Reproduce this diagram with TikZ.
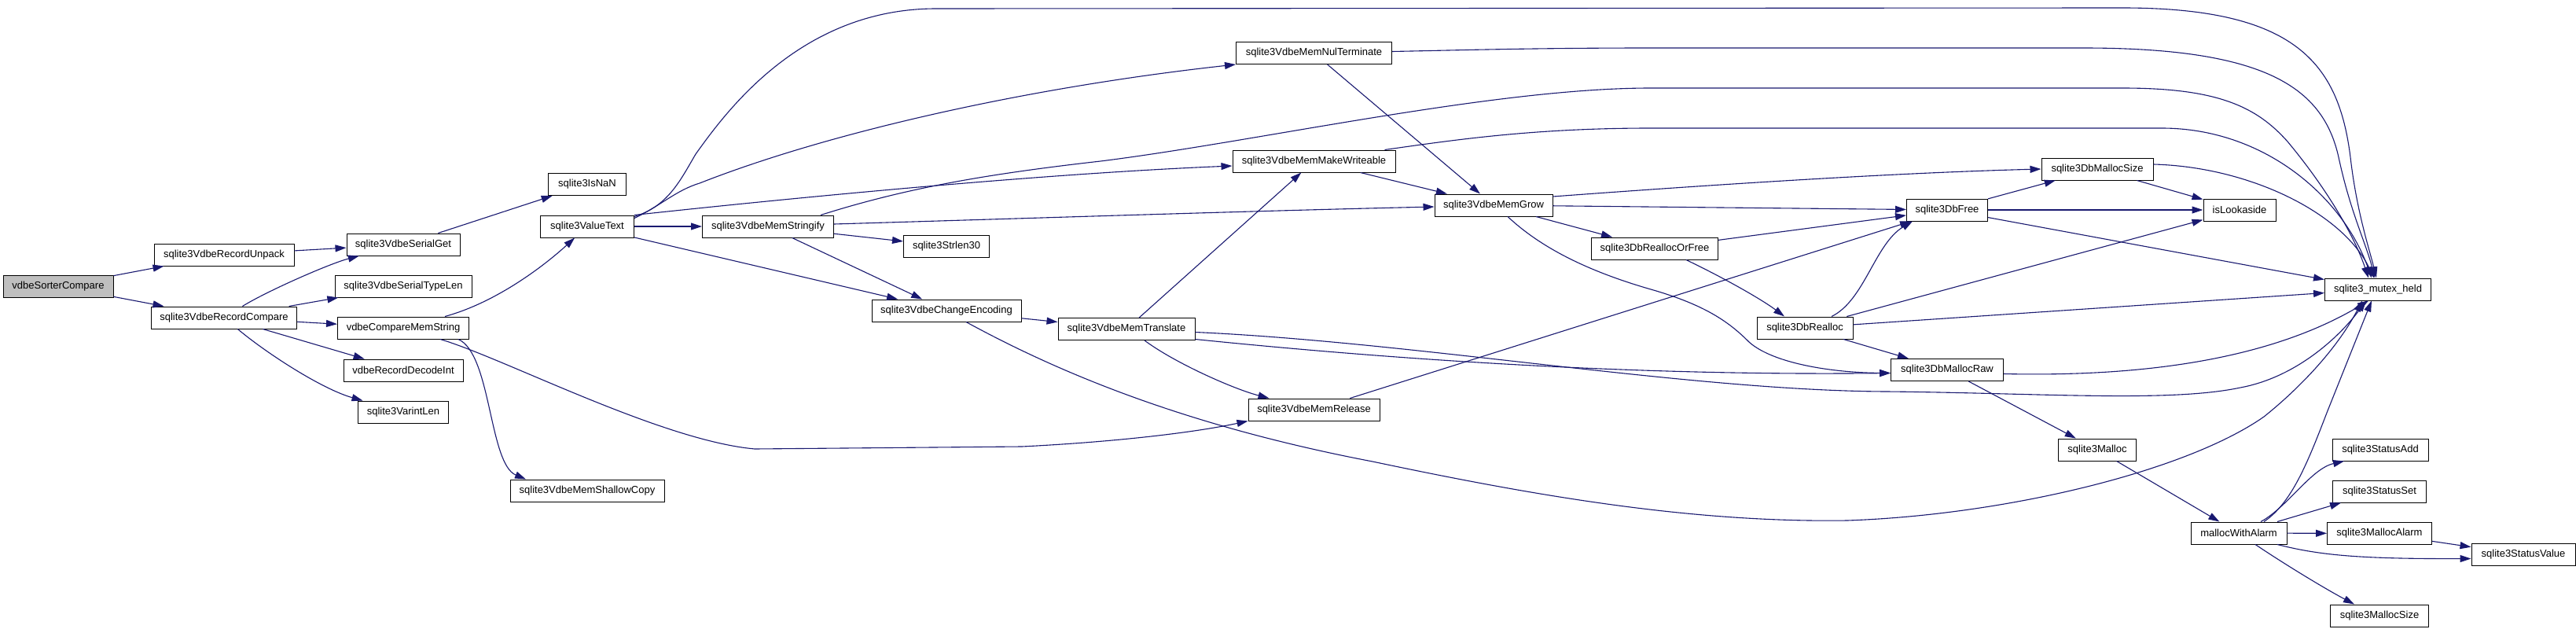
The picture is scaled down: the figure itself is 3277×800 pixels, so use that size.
\documentclass[tikz,border=0pt]{standalone}
\usepackage{fontspec}
\setmainfont{Liberation Sans}
\usetikzlibrary{arrows.meta}
\definecolor{edgec}{HTML}{191970}
\definecolor{rootfill}{HTML}{BFBFBF}
\tikzset{
  fn/.style={draw=black, line width=1pt, fill=white, minimum height=28pt, inner sep=0pt,
    font=\fontsize{13pt}{15pt}\selectfont},
  ed/.style={draw=edgec, line width=1.1pt, -{Triangle[length=14pt,width=9pt]}},
}
\begin{document}
\begin{tikzpicture}[x=1pt,y=-1pt]
\fill[white] (0,0) rectangle (3277,800);
\useasboundingbox (0,0) rectangle (3277,800);

% nodes
\node[fn, minimum width=140pt, fill=rootfill] (sorter) at (74,364) {vdbeSorterCompare};
\node[fn, minimum width=178pt] (unpack) at (285,324) {sqlite3VdbeRecordUnpack};
\node[fn, minimum width=185pt] (cmp) at (285,404) {sqlite3VdbeRecordCompare};
\node[fn, minimum width=144pt] (serialget) at (513,311) {sqlite3VdbeSerialGet};
\node[fn, minimum width=174pt] (typelen) at (513,364) {sqlite3VdbeSerialTypeLen};
\node[fn, minimum width=167pt] (memstr) at (513,417) {vdbeCompareMemString};
\node[fn, minimum width=152pt] (decodeint) at (513,471) {vdbeRecordDecodeInt};
\node[fn, minimum width=115pt] (varint) at (513,524) {sqlite3VarintLen};
\node[fn, minimum width=99pt] (isnan) at (747,234.5) {sqlite3IsNaN};
\node[fn, minimum width=119pt] (valuetext) at (747,288) {sqlite3ValueText};
\node[fn, minimum width=196pt] (shallow) at (747,624) {sqlite3VdbeMemShallowCopy};
\node[fn, minimum width=167pt] (stringify) at (977,288) {sqlite3VdbeMemStringify};
\node[fn, minimum width=109pt] (strlen) at (1204,313) {sqlite3Strlen30};
\node[fn, minimum width=190pt] (changeenc) at (1204,395) {sqlite3VdbeChangeEncoding};
\node[fn, minimum width=174pt] (translate) at (1433,418.5) {sqlite3VdbeMemTranslate};
\node[fn, minimum width=198pt] (nulterm) at (1671.5,67.5) {sqlite3VdbeMemNulTerminate};
\node[fn, minimum width=207pt] (makewrite) at (1671.5,205) {sqlite3VdbeMemMakeWriteable};
\node[fn, minimum width=167pt] (release) at (1671.5,521) {sqlite3VdbeMemRelease};
\node[fn, minimum width=150pt] (grow) at (1900,261) {sqlite3VdbeMemGrow};
\node[fn, minimum width=161pt] (reallocorfree) at (2105,316) {sqlite3DbReallocOrFree};
\node[fn, minimum width=122pt] (realloc) at (2296,417) {sqlite3DbRealloc};
\node[fn, minimum width=103pt] (dbfree) at (2477,267) {sqlite3DbFree};
\node[fn, minimum width=143pt] (mallocraw) at (2477,470.5) {sqlite3DbMallocRaw};
\node[fn, minimum width=142pt] (dbmallocsize) at (2668,215) {sqlite3DbMallocSize};
\node[fn, minimum width=99pt] (malloc) at (2668,572) {sqlite3Malloc};
\node[fn, minimum width=92pt] (lookaside) at (2849,267) {isLookaside};
\node[fn, minimum width=122pt] (mwa) at (2848,678) {mallocWithAlarm};
\node[fn, minimum width=135pt] (mutex) at (3025,368) {sqlite3\_mutex\_held};
\node[fn, minimum width=122pt] (statusadd) at (3028,572) {sqlite3StatusAdd};
\node[fn, minimum width=119pt] (statusset) at (3027,625) {sqlite3StatusSet};
\node[fn, minimum width=133pt] (mallocalarm) at (3027,678.5) {sqlite3MallocAlarm};
\node[fn, minimum width=125pt] (mallocsz) at (3027,783) {sqlite3MallocSize};
\node[fn, minimum width=132pt] (statusvalue) at (3210,705.5) {sqlite3StatusValue};

% edges
\draw[ed] (sorter) -- (unpack);
\draw[ed] (sorter) -- (cmp);
\draw[ed] (unpack) -- (serialget);
\draw[ed] (cmp) .. controls (340,370) and (420,335) .. (serialget);
\draw[ed] (cmp) -- (typelen);
\draw[ed] (cmp) -- (memstr);
\draw[ed] (cmp) -- (decodeint);
\draw[ed] (cmp) .. controls (340,450) and (410,495) .. (varint);
\draw[ed] (serialget) -- (isnan);
\draw[ed] (memstr) .. controls (630,385) and (690,340) .. (valuetext);
\draw[ed] ([xshift=70pt]memstr.south) .. controls (625,450) and (622,590) .. ([xshift=-78pt]shallow.north);
\draw[ed] ([xshift=47pt]memstr.south) .. controls (640,455) and (840,560) .. (960,571)
   -- (1300,568) .. controls (1420,562) and (1520,550) .. (release.south west);
% sqlite3ValueText
\draw[ed] ([yshift=-2pt]valuetext.north east) .. controls (850,262) and (865,230) .. (885,196)
   .. controls (925,140) and (1020,11) .. (1191,11) -- (2700,10)
   .. controls (2920,10) and (2975,80) .. (2990,200)
   .. controls (2998,270) and (3015,320) .. ([xshift=-2pt]mutex.north);
\draw[ed] ([yshift=-4pt]valuetext.north east) .. controls (840,262) and (860,242) .. (890,233)
   .. controls (1050,170) and (1300,112) .. (nulterm.south west);
\draw[ed] (valuetext.north east) .. controls (950,258) and (1300,222) .. ([yshift=-6pt]makewrite.west);
\draw[ed] (valuetext) -- (stringify);
\draw[ed] (valuetext) -- (changeenc);
% sqlite3VdbeMemStringify
\draw[ed] (stringify) -- (changeenc);
\draw[ed] (stringify) -- (strlen);
\draw[ed] ([yshift=3pt]stringify.east) .. controls (1300,278) and (1600,268) .. ([yshift=-2pt]grow.west);
\draw[ed] ([xshift=67pt]stringify.north) .. controls (1150,240) and (1250,222) .. (1400,205)
   .. controls (1600,180) and (1900,112) .. (2100,112) -- (2700,112)
   .. controls (2820,112) and (2870,135) .. (2910,180)
   .. controls (2960,240) and (2995,300) .. ([xshift=-12pt]mutex.north);
% sqlite3VdbeMemMakeWriteable
\draw[ed] (makewrite) -- (grow);
\draw[ed] ([xshift=90pt]makewrite.north) .. controls (1850,178) and (1950,163) .. (2100,163) -- (2750,163)
   .. controls (2880,163) and (2980,250) .. ([xshift=-8pt]mutex.north);
% sqlite3VdbeMemNulTerminate
\draw[ed] (nulterm) -- (grow);
\draw[ed] ([yshift=2pt]nulterm.east) .. controls (1850,64) and (1950,61) .. (2100,61) -- (2650,61)
   .. controls (2880,61) and (2955,110) .. (2975,200)
   .. controls (2990,270) and (3010,310) .. ([xshift=-4pt]mutex.north);
% sqlite3VdbeMemGrow
\draw[ed] ([yshift=11pt]grow.east) .. controls (2150,237) and (2400,220) .. (dbmallocsize.west);
\draw[ed] (grow) -- (dbfree);
\draw[ed] (grow) -- (reallocorfree);
\draw[ed] ([xshift=18pt]grow.south) .. controls (1960,315) and (2020,345) .. (2100,368)
   .. controls (2170,388) and (2200,410) .. (2225,435)
   .. controls (2255,462) and (2330,474) .. ([yshift=-4pt]mallocraw.west);
% sqlite3VdbeChangeEncoding
\draw[ed] (changeenc) -- (translate);
\draw[ed] ([xshift=25pt]changeenc.south) .. controls (1340,470) and (1500,540) .. (1746,587)
   .. controls (1950,630) and (2150,665) .. (2350,662)
   .. controls (2550,655) and (2780,600) .. (2880,530)
   .. controls (2930,490) and (2975,440) .. ([xshift=-20pt]mutex.south);
% sqlite3VdbeMemTranslate
\draw[ed] (translate) -- (makewrite);
\draw[ed] ([xshift=23pt]translate.south) .. controls (1495,462) and (1570,495) .. ([xshift=-57pt]release.north);
\draw[ed] ([yshift=-13pt]translate.east) .. controls (1800,460) and (2100,478) .. ([yshift=-4pt]mallocraw.west);
\draw[ed] ([yshift=-4pt]translate.east) .. controls (1800,435) and (2150,497) .. (2400,498)
   .. controls (2600,500) and (2760,512) .. (2850,493)
   .. controls (2920,480) and (2975,430) .. ([xshift=-15pt]mutex.south);
% sqlite3VdbeMemRelease
\draw[ed] (release) -- (dbfree);
% sqlite3DbReallocOrFree
\draw[ed] (reallocorfree) -- (dbfree);
\draw[ed] ([xshift=40pt]reallocorfree.south) .. controls (2190,352) and (2240,380) .. ([xshift=-26pt]realloc.north);
% sqlite3DbRealloc
\draw[ed] ([xshift=34pt]realloc.north) .. controls (2372,382) and (2385,310) .. ([xshift=-44pt]dbfree.south);
\draw[ed] (realloc) -- (lookaside);
\draw[ed] (realloc) -- (mutex);
\draw[ed] (realloc) -- (mallocraw);
% sqlite3DbFree
\draw[ed] (dbfree) -- (dbmallocsize);
\draw[ed] (dbfree) -- (lookaside);
\draw[ed] (dbfree) -- (mutex);
% sqlite3DbMallocSize
\draw[ed] (dbmallocsize) -- (lookaside);
\draw[ed] ([yshift=6pt]dbmallocsize.east) .. controls (2860,212) and (2980,270) .. ([xshift=-5pt]mutex.north);
% sqlite3DbMallocRaw
\draw[ed] ([yshift=-5pt]mallocraw.east) .. controls (2750,480) and (2900,450) .. ([xshift=-12pt]mutex.south);
\draw[ed] (mallocraw) -- (malloc);
% sqlite3Malloc
\draw[ed] (malloc) -- (mwa);
% mallocWithAlarm
\draw[ed] ([xshift=32pt]mwa.north) .. controls (2915,640) and (2935,590) .. (2960,525) -- ([xshift=-8pt]mutex.south);
\draw[ed] ([xshift=28pt]mwa.north) .. controls (2910,645) and (2940,596) .. ([xshift=-46pt]statusadd.south);
\draw[ed] (mwa) -- (statusset);
\draw[ed] (mwa) -- (mallocalarm);
\draw[ed] ([xshift=49pt]mwa.south) .. controls (2950,706) and (3000,711) .. ([yshift=-5pt]statusvalue.west);
\draw[ed] ([xshift=21pt]mwa.south) .. controls (2910,720) and (2960,750) .. ([xshift=-32pt]mallocsz.north);
% sqlite3MallocAlarm
\draw[ed] (mallocalarm) -- (statusvalue);
\end{tikzpicture}
\end{document}
